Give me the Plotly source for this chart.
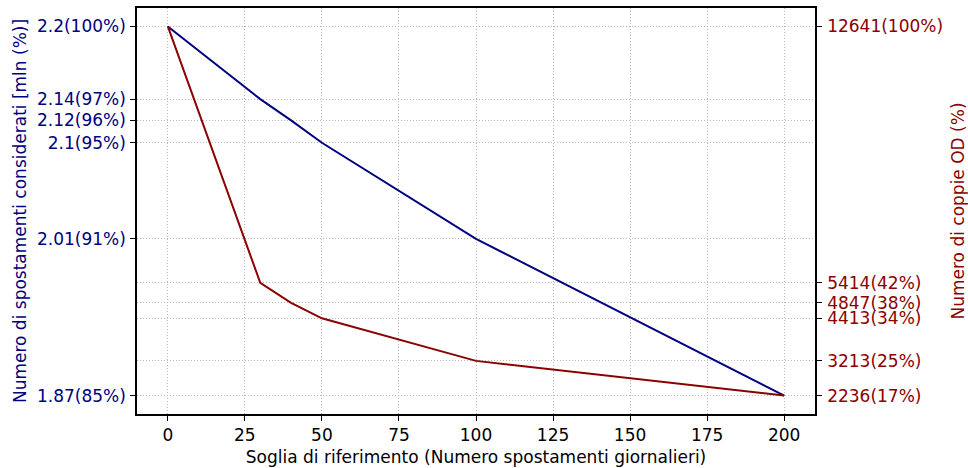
import plotly.graph_objects as go

x_soglia = [0, 30, 40, 50, 100, 200]
spostamenti = [2.2, 2.135, 2.116, 2.096, 2.01, 1.87]
spost_labels = ["2.2(100%)", "2.14(97%)", "2.12(96%)", "2.1(95%)", "2.01(91%)", "1.87(85%)"]
coppie = [12641, 5414, 4847, 4413, 3213, 2236]
coppie_labels = ["12641(100%)", "5414(42%)", "4847(38%)", "4413(34%)", "3213(25%)", "2236(17%)"]
x_ticks = [0, 25, 50, 75, 100, 125, 150, 175, 200]

BLUE = "#000080"
RED = "#8B0000"
FONT = "DejaVu Sans"
FS = 17

def padded(vals, frac=0.05):
    lo, hi = min(vals), max(vals)
    d = (hi - lo) * frac
    return [lo - d, hi + d]

fig = go.Figure()
fig.add_trace(go.Scatter(x=x_soglia, y=spostamenti, mode="lines",
                         line=dict(color=BLUE, width=2), yaxis="y", showlegend=False))
fig.add_trace(go.Scatter(x=x_soglia, y=coppie, mode="lines",
                         line=dict(color=RED, width=2), yaxis="y2", showlegend=False))

grid = dict(showgrid=True, gridcolor="#b8b8b8", griddash="1px,2px", gridwidth=1)

fig.update_layout(
    width=968, height=468,
    margin=dict(l=137, r=153, t=8, b=54, autoexpand=False),
    plot_bgcolor="white", paper_bgcolor="white",
    font=dict(family=FONT, size=FS, color="black"),
    xaxis=dict(range=padded(x_ticks[:1] + x_ticks[-1:]), tickvals=x_ticks,
               ticks="outside", ticklen=5, tickcolor="black", zeroline=False,
               showline=True, linecolor="black", linewidth=1.5, mirror=True,
               tickfont=dict(size=FS),
               title=dict(text="Soglia di riferimento (Numero spostamenti giornalieri)",
                          font=dict(size=FS), standoff=7),
               **grid),
    yaxis=dict(range=padded(spostamenti), tickvals=spostamenti, ticktext=spost_labels,
               ticks="outside", ticklen=5, tickcolor="black", zeroline=False,
               showline=True, linecolor="black", linewidth=1.5, mirror=True,
               tickfont=dict(color=BLUE, size=FS), ticklabelstandoff=1,
               title=dict(text="Numero di spostamenti considerati [mln (%)]",
                          font=dict(color=BLUE, size=FS), standoff=6),
               **grid),
    yaxis2=dict(range=padded(coppie), tickvals=coppie, ticktext=coppie_labels,
                overlaying="y", side="right",
                ticks="outside", ticklen=5, tickcolor="black", zeroline=False,
                showline=True, linecolor="black", linewidth=1.5,
                tickfont=dict(color=RED, size=FS), ticklabelstandoff=2,
                title=dict(text="Numero di coppie OD (%)",
                           font=dict(color=RED, size=FS), standoff=10),
                **grid),
)

fig.write_html("out.html", config={"displayModeBar": False},
               post_script="document.body.style.margin='0';document.body.style.overflow='hidden';")
